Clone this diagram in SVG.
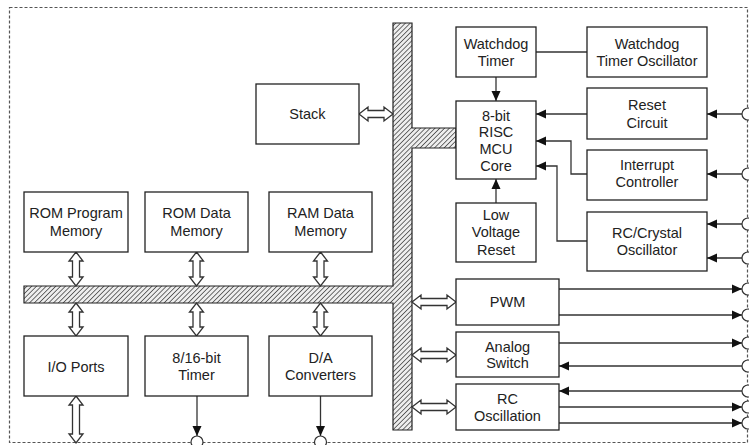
<svg xmlns="http://www.w3.org/2000/svg" width="749" height="445" viewBox="0 0 749 445">
<style>
.box{fill:#fff;stroke:#222;stroke-width:1.3}
.t{font-family:"Liberation Sans",Arial,sans-serif;font-size:14.5px;fill:#222;text-anchor:middle}
.ln{fill:none;stroke:#333;stroke-width:1.3}
.dbl{fill:#fff;stroke:#333;stroke-width:1.3;stroke-linejoin:miter}
.pin{fill:#fff;stroke:#333;stroke-width:1.2}
</style>
<defs>
<pattern id="hatch" patternUnits="userSpaceOnUse" width="3.4" height="3.4" patternTransform="rotate(45)">
<rect width="3.4" height="3.4" fill="#eeeeee"/>
<line x1="0" y1="0" x2="0" y2="3.4" stroke="#333" stroke-width="1.4"/>
</pattern>
<marker id="ah" viewBox="0 0 10 10" refX="10" refY="5" markerWidth="10" markerHeight="10" markerUnits="userSpaceOnUse" orient="auto">
<path d="M0,0.5 L10,5 L0,9.5 Z" fill="#111"/>
</marker>
</defs>
<rect x="9.5" y="7.5" width="738" height="435" fill="none" stroke="#555" stroke-width="1.2" stroke-dasharray="3,2"/>
<g id="bus">
<path d="M393,23 H412 V128 H456 V148 H412 V430 H393 V303 H24 V286 H393 Z" fill="url(#hatch)" stroke="#222" stroke-width="1.2"/>
</g>
<g id="connectors">
<path class="dbl" d="M76,252 L83,261 L79.5,261 L79.5,277 L83,277 L76,286 L69,277 L72.5,277 L72.5,261 L69,261 Z"/>
<path class="dbl" d="M196.5,252 L203.5,261 L200,261 L200,277 L203.5,277 L196.5,286 L189.5,277 L193,277 L193,261 L189.5,261 Z"/>
<path class="dbl" d="M320.5,252 L327.5,261 L324,261 L324,277 L327.5,277 L320.5,286 L313.5,277 L317,277 L317,261 L313.5,261 Z"/>
<path class="dbl" d="M76,303 L83,312 L79.5,312 L79.5,327 L83,327 L76,336 L69,327 L72.5,327 L72.5,312 L69,312 Z"/>
<path class="dbl" d="M196.5,303 L203.5,312 L200,312 L200,327 L203.5,327 L196.5,336 L189.5,327 L193,327 L193,312 L189.5,312 Z"/>
<path class="dbl" d="M320.5,303 L327.5,312 L324,312 L324,327 L327.5,327 L320.5,336 L313.5,327 L317,327 L317,312 L313.5,312 Z"/>
<path class="dbl" d="M76,396 L83,405 L79.5,405 L79.5,434 L83,434 L76,443 L69,434 L72.5,434 L72.5,405 L69,405 Z"/>
<path class="dbl" d="M359,114 L368,107 L368,110.5 L384,110.5 L384,107 L393,114 L384,121 L384,117.5 L368,117.5 L368,121 Z"/>
<path class="dbl" d="M412,302 L421,295 L421,298.5 L447,298.5 L447,295 L456,302 L447,309 L447,305.5 L421,305.5 L421,309 Z"/>
<path class="dbl" d="M412,355 L421,348 L421,351.5 L447,351.5 L447,348 L456,355 L447,362 L447,358.5 L421,358.5 L421,362 Z"/>
<path class="dbl" d="M412,407 L421,400 L421,403.5 L447,403.5 L447,400 L456,407 L447,414 L447,410.5 L421,410.5 L421,414 Z"/>
<path class="ln" d="M536,52 H587"/>
<path class="ln" d="M496,77 V101" marker-end="url(#ah)"/>
<path class="ln" d="M587,114 H536" marker-end="url(#ah)"/>
<path class="ln" d="M587,174 H571 V141 H536" marker-end="url(#ah)"/>
<path class="ln" d="M496,203 V179" marker-end="url(#ah)"/>
<path class="ln" d="M587,241 H557 V166 H536" marker-end="url(#ah)"/>
<path class="ln" d="M742,114 H707" marker-end="url(#ah)"/>
<path class="ln" d="M742,174 H707" marker-end="url(#ah)"/>
<path class="ln" d="M742,224 H707" marker-end="url(#ah)"/>
<path class="ln" d="M742,258 H707" marker-end="url(#ah)"/>
<path class="ln" d="M559,289 H742" marker-end="url(#ah)"/>
<path class="ln" d="M559,315 H742" marker-end="url(#ah)"/>
<path class="ln" d="M559,343 H742" marker-end="url(#ah)"/>
<path class="ln" d="M742,366 H559" marker-end="url(#ah)"/>
<path class="ln" d="M742,391 H559" marker-end="url(#ah)"/>
<path class="ln" d="M559,407 H742" marker-end="url(#ah)"/>
<path class="ln" d="M559,423 H742" marker-end="url(#ah)"/>
<path class="ln" d="M197,396 V436" marker-end="url(#ah)"/>
<path class="ln" d="M320.5,396 V436" marker-end="url(#ah)"/>
<circle class="pin" cx="748" cy="114" r="6"/>
<circle class="pin" cx="748" cy="174" r="6"/>
<circle class="pin" cx="748" cy="224" r="6"/>
<circle class="pin" cx="748" cy="258" r="6"/>
<circle class="pin" cx="748" cy="289" r="6"/>
<circle class="pin" cx="748" cy="315" r="6"/>
<circle class="pin" cx="748" cy="343" r="6"/>
<circle class="pin" cx="748" cy="366" r="6"/>
<circle class="pin" cx="748" cy="391" r="6"/>
<circle class="pin" cx="748" cy="407" r="6"/>
<circle class="pin" cx="748" cy="423" r="6"/>
<circle class="pin" cx="197" cy="442" r="6"/>
<circle class="pin" cx="320.5" cy="442" r="6"/>
</g>
<g id="stack"><rect class="box" x="256" y="84" width="103" height="60"/><text class="t" x="307.5" y="119">Stack</text></g>
<g id="rom-program"><rect class="box" x="24" y="192" width="104" height="60"/><text class="t" x="76" y="218">ROM Program</text><text class="t" x="76" y="236">Memory</text></g>
<g id="rom-data"><rect class="box" x="145" y="192" width="103" height="60"/><text class="t" x="196.5" y="218">ROM Data</text><text class="t" x="196.5" y="236">Memory</text></g>
<g id="ram-data"><rect class="box" x="269" y="192" width="103" height="60"/><text class="t" x="320.5" y="218">RAM Data</text><text class="t" x="320.5" y="236">Memory</text></g>
<g id="io-ports"><rect class="box" x="24" y="336" width="104" height="60"/><text class="t" x="76" y="372">I/O Ports</text></g>
<g id="timer"><rect class="box" x="145" y="336" width="103" height="60"/><text class="t" x="196.5" y="363">8/16-bit</text><text class="t" x="196.5" y="380">Timer</text></g>
<g id="da"><rect class="box" x="269" y="336" width="103" height="60"/><text class="t" x="320.5" y="363">D/A</text><text class="t" x="320.5" y="380">Converters</text></g>
<g id="wdt"><rect class="box" x="456" y="27" width="80" height="50"/><text class="t" x="496" y="49">Watchdog</text><text class="t" x="496" y="66">Timer</text></g>
<g id="wdt-osc"><rect class="box" x="587" y="27" width="120" height="50"/><text class="t" x="647" y="49">Watchdog</text><text class="t" x="647" y="66">Timer Oscillator</text></g>
<g id="core"><rect class="box" x="456" y="101" width="80" height="78"/><text class="t" x="496" y="121">8-bit</text><text class="t" x="496" y="137">RISC</text><text class="t" x="496" y="154">MCU</text><text class="t" x="496" y="171">Core</text></g>
<g id="reset"><rect class="box" x="587" y="88" width="120" height="51"/><text class="t" x="647" y="110">Reset</text><text class="t" x="647" y="128">Circuit</text></g>
<g id="interrupt"><rect class="box" x="587" y="150" width="120" height="50"/><text class="t" x="647" y="170">Interrupt</text><text class="t" x="647" y="187">Controller</text></g>
<g id="lvr"><rect class="box" x="456" y="203" width="80" height="59"/><text class="t" x="496" y="220">Low</text><text class="t" x="496" y="237">Voltage</text><text class="t" x="496" y="255">Reset</text></g>
<g id="rc-crystal"><rect class="box" x="587" y="212" width="120" height="59"/><text class="t" x="647" y="238">RC/Crystal</text><text class="t" x="647" y="255">Oscillator</text></g>
<g id="pwm"><rect class="box" x="456" y="279" width="103" height="46"/><text class="t" x="507.5" y="307">PWM</text></g>
<g id="analog"><rect class="box" x="456" y="332" width="103" height="45"/><text class="t" x="507.5" y="352">Analog</text><text class="t" x="507.5" y="368">Switch</text></g>
<g id="rc-osc"><rect class="box" x="456" y="384" width="103" height="46"/><text class="t" x="507.5" y="404">RC</text><text class="t" x="507.5" y="421">Oscillation</text></g>
</svg>
